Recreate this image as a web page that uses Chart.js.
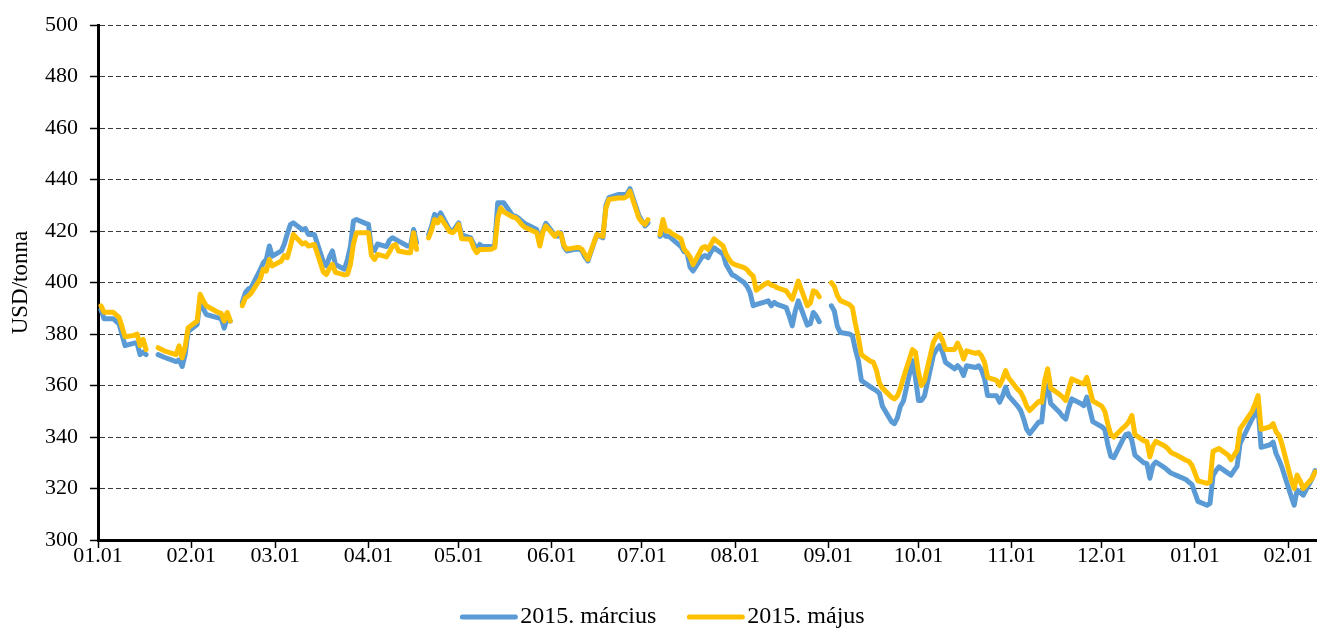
<!DOCTYPE html>
<html>
<head>
<meta charset="utf-8">
<script src="https://cdn.jsdelivr.net/npm/chart.js@4"></script>
<style>
html,body{margin:0;padding:0;background:#fff;}
#wrap{width:1317px;height:628px;position:relative;}
</style>
</head>
<body>
<div id="wrap"><canvas id="c"></canvas></div>
<script>
// ---- data ----
const dates = [
'2014-01-02','2014-01-03','2014-01-06','2014-01-08','2014-01-10','2014-01-13','2014-01-14','2014-01-15','2014-01-16','2014-01-17',
'2014-01-20',
'2014-01-21','2014-01-23','2014-01-27','2014-01-28','2014-01-29','2014-01-30','2014-01-31',
'2014-02-03','2014-02-04','2014-02-05','2014-02-06','2014-02-10','2014-02-11','2014-02-12','2014-02-13','2014-02-14',
'2014-02-17',
'2014-02-18','2014-02-19','2014-02-20','2014-02-21','2014-02-24','2014-02-25','2014-02-26','2014-02-27','2014-02-28',
'2014-03-03','2014-03-04','2014-03-05','2014-03-06','2014-03-07','2014-03-10','2014-03-11','2014-03-12','2014-03-13','2014-03-14',
'2014-03-17','2014-03-18','2014-03-19','2014-03-20','2014-03-21','2014-03-24','2014-03-25','2014-03-26','2014-03-27','2014-03-28','2014-03-31',
'2014-04-01','2014-04-02','2014-04-03','2014-04-04','2014-04-07','2014-04-08','2014-04-09','2014-04-10','2014-04-11','2014-04-14','2014-04-15','2014-04-16','2014-04-17',
'2014-04-18',
'2014-04-21','2014-04-22','2014-04-23','2014-04-24','2014-04-25','2014-04-28','2014-04-29','2014-04-30',
'2014-05-01','2014-05-02','2014-05-05','2014-05-06','2014-05-07','2014-05-08','2014-05-09','2014-05-12','2014-05-13','2014-05-14','2014-05-15','2014-05-16',
'2014-05-19','2014-05-20','2014-05-21','2014-05-22','2014-05-23','2014-05-27','2014-05-28','2014-05-29','2014-05-30',
'2014-06-02','2014-06-03','2014-06-04','2014-06-05','2014-06-06','2014-06-09','2014-06-10','2014-06-11','2014-06-12','2014-06-13',
'2014-06-16','2014-06-17','2014-06-18','2014-06-19','2014-06-20','2014-06-23','2014-06-24','2014-06-25','2014-06-26','2014-06-27','2014-06-30',
'2014-07-01','2014-07-02','2014-07-03',
'2014-07-04',
'2014-07-07','2014-07-08','2014-07-09','2014-07-10','2014-07-11','2014-07-14','2014-07-15','2014-07-16','2014-07-17','2014-07-18',
'2014-07-21','2014-07-22','2014-07-23','2014-07-24','2014-07-25','2014-07-28','2014-07-29','2014-07-30','2014-07-31',
'2014-08-01','2014-08-04','2014-08-05','2014-08-06','2014-08-07','2014-08-08','2014-08-11','2014-08-12','2014-08-13','2014-08-14','2014-08-15',
'2014-08-18','2014-08-19','2014-08-20','2014-08-21','2014-08-22','2014-08-25','2014-08-26','2014-08-27','2014-08-28','2014-08-29',
'2014-09-01',
'2014-09-02','2014-09-03','2014-09-04','2014-09-05','2014-09-08','2014-09-09','2014-09-10','2014-09-11','2014-09-12',
'2014-09-15','2014-09-16','2014-09-17','2014-09-18','2014-09-19','2014-09-22','2014-09-23','2014-09-24','2014-09-25','2014-09-26','2014-09-29','2014-09-30',
'2014-10-01','2014-10-02','2014-10-03','2014-10-06','2014-10-07','2014-10-08','2014-10-09','2014-10-10','2014-10-13','2014-10-14','2014-10-15','2014-10-16','2014-10-17',
'2014-10-20','2014-10-21','2014-10-22','2014-10-23','2014-10-24','2014-10-27','2014-10-28','2014-10-29','2014-10-30','2014-10-31',
'2014-11-03','2014-11-04','2014-11-05','2014-11-06','2014-11-07','2014-11-10','2014-11-11','2014-11-12','2014-11-13','2014-11-14',
'2014-11-17','2014-11-18','2014-11-19','2014-11-20','2014-11-21','2014-11-24','2014-11-25','2014-11-26','2014-11-28',
'2014-12-01','2014-12-02','2014-12-03','2014-12-04','2014-12-05','2014-12-08','2014-12-09','2014-12-10','2014-12-11','2014-12-12',
'2014-12-15','2014-12-16','2014-12-17','2014-12-18','2014-12-19','2014-12-22','2014-12-23','2014-12-24','2014-12-26','2014-12-29','2014-12-30','2014-12-31',
'2015-01-02','2015-01-05','2015-01-06','2015-01-07','2015-01-08','2015-01-09','2015-01-12','2015-01-13','2015-01-14','2015-01-15','2015-01-16',
'2015-01-20','2015-01-21','2015-01-22','2015-01-23','2015-01-26','2015-01-27','2015-01-28','2015-01-29','2015-01-30',
'2015-02-02','2015-02-03','2015-02-04','2015-02-05','2015-02-06','2015-02-09','2015-02-10'
];

const marcius = [
389.5,386,386,384,375.5,376.5,376.5,372,373,372,
null,
372,371,369.3,370,367.4,372,381,
383.7,393.5,390,387.6,386.3,386,382.3,386.3,385,
null,
392.3,396,397.5,398.1,405,407.7,409,414.2,410.3,
412.3,415,419,422.5,423.2,420.5,421,418.7,418.7,418.7,
408,406.5,410,412.3,407,405.2,409,414,423.9,424.5,423,
422.6,413,412.5,415,414,416.5,417.4,416.8,416.1,414.2,414.2,420.6,415.5,
null,
418.7,422,426.5,425.2,427.1,420.5,420,421.5,
423.2,418.5,417.4,415,413,414.8,414,414,414.2,431,431,431,
426,425.8,425,423.9,423,420.6,415.5,420,423,
418.5,418,419.4,414,412.3,413,413,412.5,410,408.4,
418.7,418,417.4,430,433,434.2,434.2,434.2,434.5,436.5,426,
424,422,423.2,
null,
418,419,418,418,417,414,412,411.6,406,404.5,
410,410.5,409.7,412,413.5,411,407,405,403,
402.5,400,398.5,396,391,391.5,392.5,392.9,391,392.3,391.5,
390.3,387,383.2,389,392.9,383.5,384,388.4,387,384.8,
null,
391,389,383,380.6,380,379.4,374,369.7,362,
359.5,358.7,358,357,352,346,345.2,347.5,352,354,369.7,363,
354.2,354.2,356,372,374,375.5,373,369,366.5,367.7,366.5,363.9,367.7,
367,367.7,366,362.6,356.1,356,353.5,356,359.4,356,
352,350.3,347,343,341.3,345.8,345.8,357,360,353,
349.5,348,347,351.5,354.8,353,352.2,355.5,346,
344,343,337,332.5,332,339,341,341.3,338.7,333,
330,329.7,324,329,330.3,328,327,326,325,323.5,322.5,321.5,
315,313.5,314.2,325,327,328.4,326,325.2,327,328.6,337.4,
347,349,351,336,337,338,333.5,331,328,
317,313.5,319.4,318.5,317.4,324,327
];

const majus = [
391,388.5,388.5,386.5,379,379.5,380,375.5,378,374,
null,
374.7,373.5,372,375.4,370.8,375,382.5,
385.1,395.5,393,391,388.4,388,385.1,388.4,385.1,
null,
391,394,394.8,396,401.5,405.2,404.5,409,406.5,
408.4,410.5,409.7,414,418.7,415,415.5,414.2,414.5,414.8,
404,403.2,405.5,407.1,404,403,403.2,407.1,415,419.4,419.4,
419.4,410.5,409,411,410,412,414.2,414.8,412.3,411.6,411.6,419.4,412.9,
null,
417.4,420.5,424.5,423.2,425.2,419.8,419.4,420.5,
422.6,417,416.8,413.5,411.6,412.9,412.9,413,413.6,425,429,427.5,
425.5,425.2,424,422.5,421.5,419.4,414.2,419.5,422,
418,419.4,419,414.5,413,413.6,413.6,413,411,409,
418.7,418.3,418,429,432.3,432.9,432.9,432.9,433.5,435.5,425,
423.5,422.6,424.5,
null,
418.7,424.5,420,420,419,417,413,411.6,410,407,
413.5,414,412.9,415,417,414.2,411,409,407.5,
407,405.8,405,403.5,402.6,397,399.5,400,399,398.7,398,
396.8,395,393.5,397,400.6,391,392,396.8,396.3,394.5,
null,
400,398.5,395,393,391.5,390.3,384,378.7,372,
369.5,369,366,361,359,355.5,354.8,356,359,363,374,373,
365,360,362,377,379,380,377.5,374,374,376.5,374,370.3,373.5,
372.5,372.9,371.5,369,363.2,362,360,362.5,365.8,363,
358.5,357.4,355,352,350.3,353.8,353.5,362,366.5,359,
356.5,355.5,354.2,358.5,362.6,361,360.6,363.2,354,
352,350,345,341,340,343.5,344.5,346,348.4,341,
338.5,338.3,332.3,336.5,338.3,336.5,335.5,334,332.9,331,330.5,329,
323,322,322.6,334.5,335,335.5,333,331.2,333,334.8,343.2,
350,352.9,356.1,343,344,345.2,342,340.6,337,
323.5,320,325.2,323,320,324,326.5
];

const seriesNames = ['2015. március', '2015. május'];
const tickDates = ['2014-01-01','2014-02-01','2014-03-01','2014-04-01','2014-05-01','2014-06-01','2014-07-01',
                   '2014-08-01','2014-09-01','2014-10-01','2014-11-01','2014-12-01','2015-01-01','2015-02-01'];
const tickLabels = ['01.01','02.01','03.01','04.01','05.01','06.01','07.01','08.01','09.01','10.01','11.01','12.01','01.01','02.01'];
const yMin = 300, yMax = 500, yStep = 20;
const yTitle = 'USD/tonna';

// ---- helpers ----
const DAY = 86400000;
const BASE = Date.UTC(2014, 0, 1);
function dayIndex(s) { const p = s.split('-').map(Number); return (Date.UTC(p[0], p[1] - 1, p[2]) - BASE) / DAY; }
const xs = dates.map(dayIndex);
const tickDays = tickDates.map(dayIndex);
const toPoints = vals => xs.map((x, i) => ({x: x, y: vals[i]}));

const FONT = 'Liberation Serif';

const legendPlugin = {
  id: 'customLegend',
  afterDraw(chart) {
    const ctx = chart.ctx;
    ctx.save();
    ctx.font = '24px "' + FONT + '"';
    ctx.textBaseline = 'middle';
    const lineLen = 57, gap = 3, itemGap = 31;
    const items = chart.data.datasets.map(ds => ({label: ds.label, color: ds.borderColor, w: ctx.measureText(ds.label).width}));
    const total = items.reduce((a, it) => a + lineLen + gap + it.w, 0) + itemGap * (items.length - 1);
    let x = chart.width / 2 - total / 2 + 4;
    const y = 617;
    items.forEach(it => {
      ctx.strokeStyle = it.color;
      ctx.lineWidth = 5;
      ctx.lineCap = 'round';
      ctx.beginPath();
      ctx.moveTo(x + 2, y);
      ctx.lineTo(x + lineLen - 2, y);
      ctx.stroke();
      ctx.fillStyle = '#000';
      ctx.fillText(it.label, x + lineLen + gap, y);
      x += lineLen + gap + it.w + itemGap;
    });
    ctx.restore();
  }
};

new Chart(document.getElementById('c'), {
  type: 'line',
  data: {
    datasets: [
      {label: seriesNames[0], data: toPoints(marcius), borderColor: '#5B9BD5', backgroundColor: '#5B9BD5',
       borderWidth: 5, pointRadius: 0, tension: 0, spanGaps: false, order: 2, borderJoinStyle: 'round', borderCapStyle: 'round'},
      {label: seriesNames[1], data: toPoints(majus), borderColor: '#FFC000', backgroundColor: '#FFC000',
       borderWidth: 5, pointRadius: 0, tension: 0, spanGaps: false, order: 1, borderJoinStyle: 'round', borderCapStyle: 'round'}
    ]
  },
  options: {
    responsive: true,
    maintainAspectRatio: false,
    animation: false,
    devicePixelRatio: 1,
    layout: {padding: {top: 22, right: 0, bottom: 0, left: 0}},
    plugins: {legend: {display: false}, tooltip: {enabled: false}},
    scales: {
      x: {
        type: 'linear',
        min: 0,
        max: xs[xs.length - 1] + 0.6,
        afterBuildTicks: s => { s.ticks = tickDays.map(v => ({value: v})); },
        afterFit: s => { s.height = 88; },
        ticks: {
          autoSkip: false, maxRotation: 0, minRotation: 0,
          callback: v => { const i = tickDays.indexOf(v); return i >= 0 ? tickLabels[i] : ''; },
          font: {family: FONT, size: 22}, color: '#000', padding: -5
        },
        grid: {drawOnChartArea: false, drawTicks: true, tickLength: 8, tickColor: '#000', tickWidth: 1.5},
        border: {color: '#000', width: 3}
      },
      y: {
        min: yMin, max: yMax,
        afterFit: s => { s.width = 98; },
        ticks: {stepSize: yStep, font: {family: FONT, size: 22}, color: '#000', padding: 12},
        grid: {color: '#3a3a3a', lineWidth: 1, tickLength: 8, tickColor: '#000', tickWidth: 1.5, tickBorderDash: []},
        border: {color: '#000', width: 3, dash: [5, 3]},
        title: {display: true, text: yTitle, font: {family: FONT, size: 23}, color: '#000', padding: {top: 7, bottom: 0}}
      }
    }
  },
  plugins: [legendPlugin]
});
</script>
</body>
</html>
